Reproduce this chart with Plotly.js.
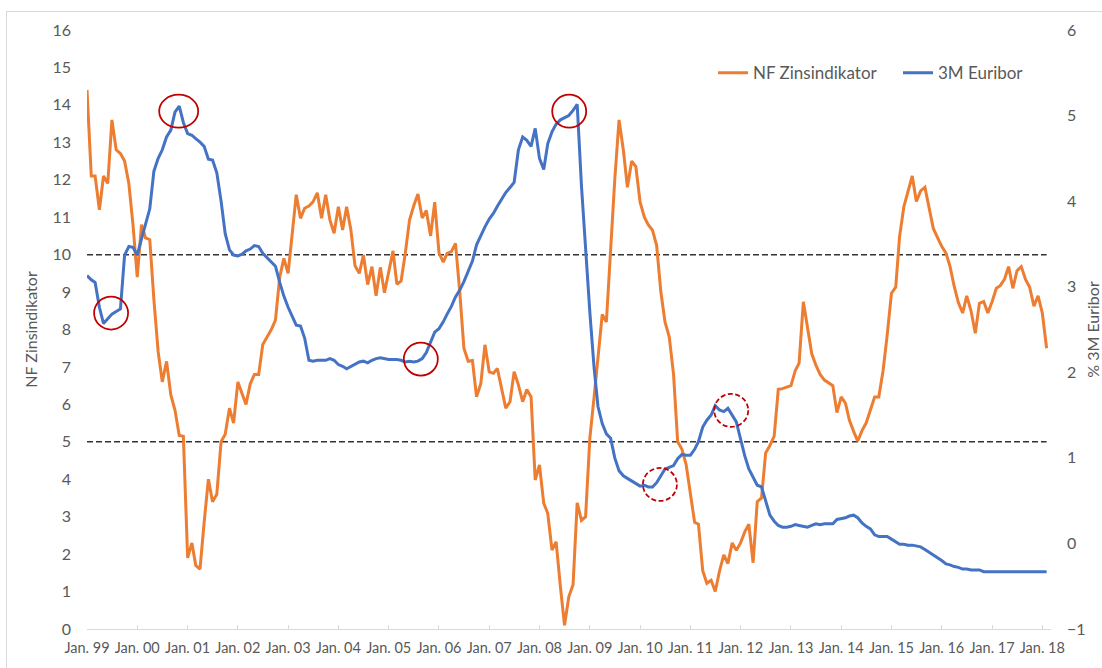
<!DOCTYPE html>
<html>
<head>
<meta charset="utf-8">
<script src="https://cdn.plot.ly/plotly-3.0.1.min.js"></script>
<style>
  html, body { margin: 0; padding: 0; background: #ffffff; overflow: hidden; }
  #chart { position: absolute; left: 0; top: 0; width: 1102px; height: 668px; }
  #frame { position: absolute; left: 6px; top: 11px; width: 1200px; height: 800px;
           border: 1px solid #d9d9d9; pointer-events: none; }
</style>
</head>
<body>
<div id="chart"></div>
<div id="frame"></div>
<script>
// ---- Data (monthly, Jan 1999 .. Feb 2018) ----
const firstYear = 1999;

const zinsIndikator = [
  14.4, 12.1, 12.1, 11.2, 12.1, 11.9, 13.6, 12.8, 12.7, 12.5, 11.9, 10.8,   // 1999
  9.4, 10.8, 10.45, 10.4, 8.8, 7.4, 6.6, 7.15, 6.25, 5.85, 5.17, 5.15,       // 2000
  1.9, 2.3, 1.7, 1.6, 2.85, 4.0, 3.4, 3.6, 5.0, 5.2, 5.9, 5.5,               // 2001
  6.6, 6.3, 6.0, 6.55, 6.8, 6.8, 7.6, 7.8, 8.0, 8.25, 9.4, 9.9,              // 2002
  9.5, 10.6, 11.6, 10.97, 11.24, 11.3, 11.41, 11.65, 10.97, 11.6, 10.92, 10.57, // 2003
  11.28, 10.66, 11.28, 10.66, 9.7, 9.5, 9.99, 9.2, 9.68, 8.9, 9.66, 8.98,   // 2004
  9.55, 10.1, 9.21, 9.3, 10.03, 10.92, 11.3, 11.62, 10.98, 11.18, 10.5, 11.4, // 2005
  10.05, 9.8, 10.03, 10.08, 10.3, 9.0, 7.5, 7.15, 7.17, 6.2, 6.56, 7.59,    // 2006
  6.87, 6.83, 6.96, 6.43, 5.9, 6.07, 6.87, 6.52, 6.07, 6.4, 6.2, 3.98,      // 2007
  4.38, 3.36, 3.09, 2.11, 2.33, 1.13, 0.1, 0.86, 1.18, 3.37, 2.9, 3.0,      // 2008
  5.1, 6.2, 7.3, 8.4, 8.2, 10.3, 12.0, 13.6, 12.8, 11.8, 12.5, 12.35,       // 2009
  11.4, 11.0, 10.8, 10.65, 10.25, 9.0, 8.2, 7.8, 6.8, 5.0, 4.8, 4.4,        // 2010
  3.6, 2.85, 2.8, 1.56, 1.22, 1.3, 1.0, 1.55, 1.98, 1.75, 2.3, 2.1,         // 2011
  2.3, 2.6, 2.8, 1.77, 3.4, 3.5, 4.7, 4.9, 5.15, 6.4, 6.42, 6.45,           // 2012
  6.5, 6.9, 7.1, 8.74, 8.1, 7.35, 7.05, 6.8, 6.65, 6.58, 6.5, 5.78,         // 2013
  6.2, 6.03, 5.58, 5.28, 5.02, 5.3, 5.5, 5.85, 6.2, 6.2, 6.9, 7.85,         // 2014
  8.97, 9.13, 10.48, 11.28, 11.7, 12.1, 11.42, 11.7, 11.8, 11.28, 10.7, 10.46, // 2015
  10.22, 10.04, 9.69, 9.15, 8.72, 8.44, 8.9, 8.5, 7.9, 8.7, 8.75, 8.44,     // 2016
  8.74, 9.1, 9.17, 9.34, 9.68, 9.1, 9.57, 9.68, 9.34, 9.13, 8.62, 8.9,      // 2017
  8.44, 7.5                                                                   // 2018
];

const euribor3M = [
  3.13, 3.08, 3.05, 2.76, 2.57, 2.63, 2.68, 2.71, 2.74, 3.37, 3.47, 3.46,   // 1999
  3.37, 3.56, 3.74, 3.91, 4.35, 4.5, 4.6, 4.75, 4.83, 5.04, 5.11, 4.92,     // 2000
  4.79, 4.77, 4.73, 4.69, 4.64, 4.49, 4.48, 4.33, 4.0, 3.62, 3.43, 3.37,    // 2001
  3.36, 3.38, 3.42, 3.44, 3.48, 3.47, 3.39, 3.34, 3.3, 3.24, 3.05, 2.89,    // 2002
  2.76, 2.65, 2.55, 2.54, 2.4, 2.14, 2.13, 2.14, 2.14, 2.14, 2.16, 2.14,    // 2003
  2.09, 2.07, 2.04, 2.07, 2.1, 2.12, 2.13, 2.11, 2.14, 2.16, 2.17, 2.16,    // 2004
  2.15, 2.15, 2.15, 2.14, 2.12, 2.13, 2.12, 2.13, 2.16, 2.23, 2.36, 2.47,   // 2005
  2.51, 2.59, 2.68, 2.77, 2.88, 2.96, 3.06, 3.18, 3.3, 3.49, 3.6, 3.7,      // 2006
  3.79, 3.86, 3.94, 4.02, 4.1, 4.16, 4.22, 4.6, 4.75, 4.71, 4.64, 4.85,     // 2007
  4.5, 4.37, 4.67, 4.81, 4.9, 4.95, 4.97, 5.0, 5.06, 5.13, 4.18, 3.39,      // 2008
  2.7, 2.05, 1.6, 1.4, 1.28, 1.23, 1.0, 0.85, 0.79, 0.76, 0.73, 0.71,       // 2009
  0.67, 0.68, 0.66, 0.66, 0.71, 0.79, 0.87, 0.89, 0.91, 0.99, 1.04, 1.03,   // 2010
  1.03, 1.1, 1.19, 1.36, 1.44, 1.5, 1.61, 1.56, 1.54, 1.58, 1.5, 1.42,      // 2011
  1.22, 1.02, 0.87, 0.77, 0.68, 0.66, 0.5, 0.33, 0.26, 0.21, 0.19, 0.19,    // 2012
  0.2, 0.22, 0.21, 0.2, 0.19, 0.21, 0.23, 0.22, 0.23, 0.23, 0.23, 0.28,     // 2013
  0.29, 0.3, 0.32, 0.33, 0.3, 0.24, 0.2, 0.17, 0.1, 0.08, 0.08, 0.08,       // 2014
  0.05, 0.02, -0.01, -0.01, -0.02, -0.02, -0.03, -0.04, -0.07, -0.1, -0.14, -0.17, // 2015
  -0.2, -0.24, -0.25, -0.27, -0.28, -0.3, -0.3, -0.31, -0.31, -0.31, -0.33, -0.33, // 2016
  -0.33, -0.33, -0.33, -0.33, -0.33, -0.33, -0.33, -0.33, -0.33, -0.33, -0.33, -0.33, // 2017
  -0.33, -0.33                                                                // 2018
];

const thresholdLevels = [10, 5];

// Highlight circles (centre date, level on left axis, dashed?)
const highlightDates  = ['1999-06-25', '2000-10-28', '2008-08-04', '2005-08-22', '2010-05-25', '2011-10-25'];
const highlightLevels = [8.44, 13.83, 13.83, 7.21, 3.86, 5.84];
const highlightDashed = [false, false, false, false, true, true];

// ---- Build ----
const months = zinsIndikator.map((_, i) => {
  const y = firstYear + Math.floor(i / 12);
  const m = (i % 12) + 1;
  return y + '-' + String(m).padStart(2, '0') + '-01';
});

const FONT = 'Lato, "Open Sans", "DejaVu Sans", sans-serif';
const GREY = '#595959';

const traces = [];
thresholdLevels.forEach(level => {
  traces.push({
    x: [months[0], months[months.length - 1]],
    y: [level, level],
    mode: 'lines',
    line: { color: '#333333', width: 1.5, dash: '6px,3px' },
    showlegend: false,
    hoverinfo: 'skip',
    yaxis: 'y'
  });
});
traces.push({
  x: months, y: zinsIndikator, name: 'NF Zinsindikator',
  mode: 'lines', line: { color: '#ED7D31', width: 3 }, yaxis: 'y', legend: 'legend'
});
traces.push({
  x: months, y: euribor3M, name: '3M Euribor',
  mode: 'lines', line: { color: '#4472C4', width: 3 }, yaxis: 'y2', legend: 'legend2'
});

const shapes = highlightDates.map((d, i) => ({
  type: 'circle', xref: 'x', yref: 'y',
  xsizemode: 'pixel', ysizemode: 'pixel',
  xanchor: d, yanchor: highlightLevels[i],
  x0: i === 1 ? -19.5 : -17, x1: i === 1 ? 19.5 : 17,
  y0: -16.5, y1: 16.5,
  line: { color: '#C00000', width: 1.75, dash: highlightDashed[i] ? '5px,2.5px' : 'solid' },
  fillcolor: 'rgba(0,0,0,0)'
}));

const legendBase = {
  orientation: 'h', xanchor: 'left', yanchor: 'middle', y: 0.928,
  bgcolor: 'rgba(0,0,0,0)', borderwidth: 0,
  font: { family: FONT, size: 17, color: GREY }
};

const layout = {
  width: 1102, height: 668,
  margin: { l: 87, r: 51, t: 30, b: 39 },
  paper_bgcolor: '#ffffff', plot_bgcolor: '#ffffff',
  font: { family: FONT, color: GREY },
  showlegend: true,
  legend: Object.assign({}, legendBase, { x: 0.6494 }),
  legend2: Object.assign({}, legendBase, { x: 0.8413 }),
  xaxis: {
    type: 'date',
    range: ['1999-01-01', '2018-03-05'],
    tick0: '1999-01-01', dtick: 'M12', tickformat: '%b. %y',
    ticks: 'inside', ticklen: 4, tickcolor: '#D9D9D9', tickwidth: 1,
    showline: true, linecolor: '#D9D9D9', linewidth: 1,
    showgrid: false, zeroline: false,
    tickfont: { family: FONT, size: 14.5, color: GREY },
    ticklabelstandoff: 6
  },
  yaxis: {
    range: [0, 16], dtick: 1, tick0: 0,
    showgrid: false, zeroline: false, showline: false, ticks: '',
    tickfont: { family: FONT, size: 16, color: GREY },
    ticklabelstandoff: 15,
    title: { text: 'NF Zinsindikator', font: { family: FONT, size: 16, color: GREY }, standoff: 10 }
  },
  yaxis2: {
    overlaying: 'y', side: 'right',
    range: [-1, 6], dtick: 1, tick0: -1,
    showgrid: false, zeroline: false, showline: false, ticks: '',
    tickfont: { family: FONT, size: 16, color: GREY },
    ticklabelstandoff: 15,
    title: { text: '% 3M Euribor', font: { family: FONT, size: 16, color: GREY }, standoff: 13 }
  },
  shapes: shapes
};

Plotly.newPlot('chart', traces, layout, { displayModeBar: false, staticPlot: true });
</script>
</body>
</html>
